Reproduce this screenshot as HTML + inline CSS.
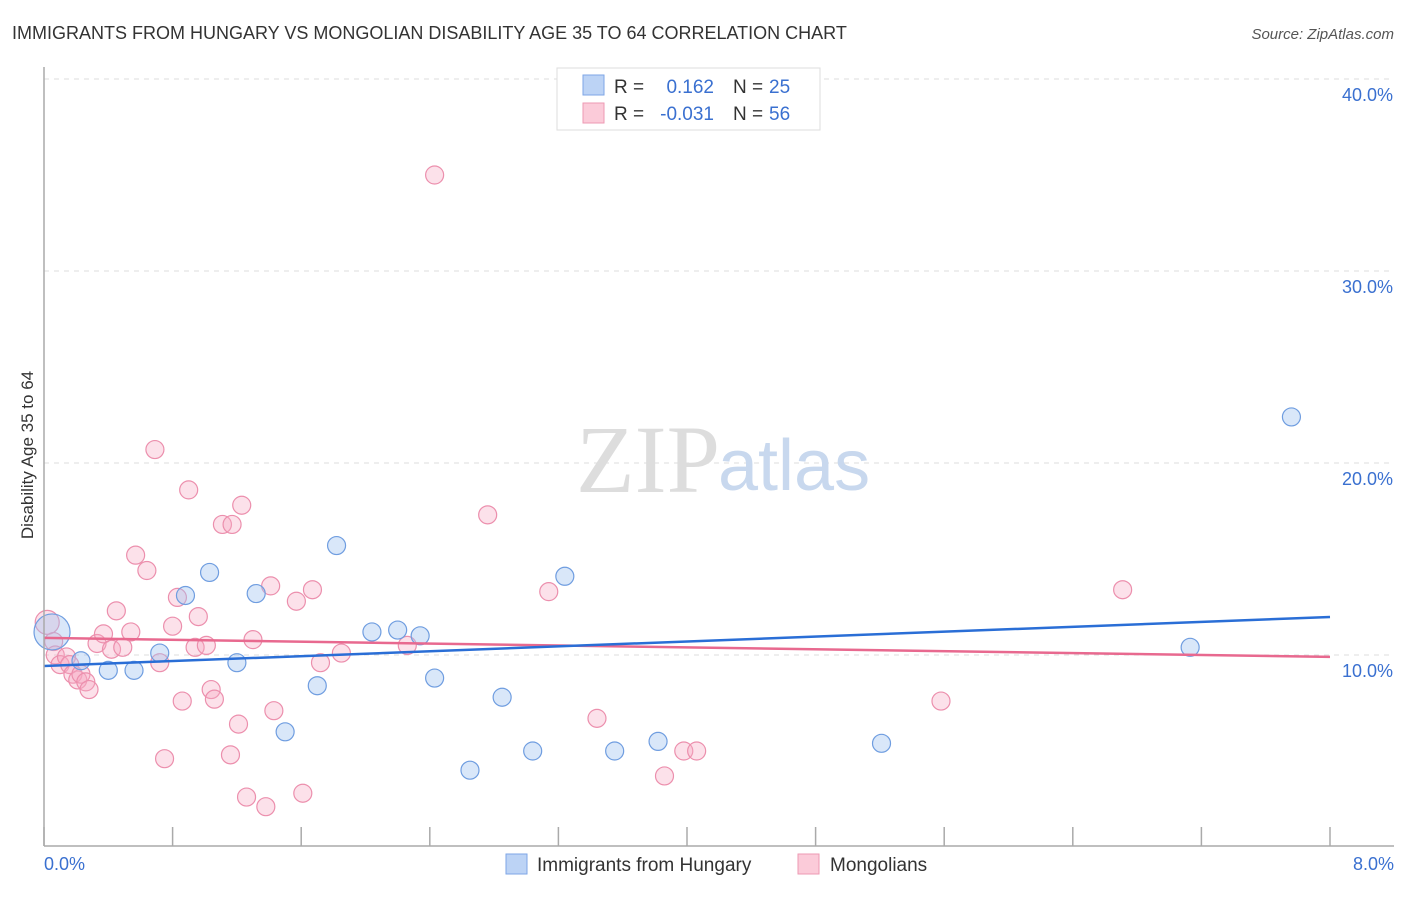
<!DOCTYPE html>
<html><head><meta charset="utf-8"><style>
body{margin:0;background:#fff;font-family:"Liberation Sans",sans-serif}
</style></head><body>
<svg width="1406" height="892" xmlns="http://www.w3.org/2000/svg" font-family="Liberation Sans, sans-serif">
<text x="12" y="39" font-size="18" fill="#333">IMMIGRANTS FROM HUNGARY VS MONGOLIAN DISABILITY AGE 35 TO 64 CORRELATION CHART</text>
<text x="1394" y="39" font-size="15" fill="#555" font-style="italic" text-anchor="end">Source: ZipAtlas.com</text>
<g id="grid"></g>
<text x="720" y="492" font-size="96" fill="#ddd" text-anchor="end" font-family="Liberation Serif, serif">ZIP</text>
<text x="718" y="490" font-size="72" fill="#c8d8ee">atlas</text>
<g id="points"></g>
<g id="lines"></g>
<line x1="44" y1="67" x2="44" y2="846" stroke="#aaa" stroke-width="1.5"/>
<line x1="44" y1="846" x2="1394" y2="846" stroke="#aaa" stroke-width="1.5"/>
<text transform="translate(33,455) rotate(-90)" font-size="17" fill="#333" text-anchor="middle">Disability Age 35 to 64</text>
<text x="44" y="870" font-size="18" fill="#3a70d0">0.0%</text>
<text x="1394" y="870" font-size="18" fill="#3a70d0" text-anchor="end">8.0%</text>
<g>
<rect x="557" y="68" width="263" height="62" fill="#fff" stroke="#ddd"/>
<rect x="583" y="75" width="21" height="20" fill="#bcd3f5" stroke="#7ea6e6"/>
<rect x="583" y="103" width="21" height="20" fill="#fbcbd9" stroke="#ee9ab3"/>
<text x="614" y="93" font-size="19" fill="#333">R =</text><text x="714" y="93" font-size="19" fill="#3a70d0" text-anchor="end">0.162</text>
<text x="733" y="93" font-size="19" fill="#333">N =</text><text x="769" y="93" font-size="19" fill="#3a70d0">25</text>
<text x="614" y="120" font-size="19" fill="#333">R =</text><text x="714" y="120" font-size="19" fill="#3a70d0" text-anchor="end">-0.031</text>
<text x="733" y="120" font-size="19" fill="#333">N =</text><text x="769" y="120" font-size="19" fill="#3a70d0">56</text>
</g>
<g>
<rect x="506" y="854" width="21" height="20" fill="#bcd3f5" stroke="#7ea6e6"/>
<text x="537" y="871" font-size="19" fill="#333">Immigrants from Hungary</text>
<rect x="798" y="854" width="21" height="20" fill="#fbcbd9" stroke="#ee9ab3"/>
<text x="830" y="871" font-size="19" fill="#333">Mongolians</text>
</g>
</svg>
<script>
const xTicks=[0,0.8,1.6,2.4,3.2,4.0,4.8,5.6,6.4,7.2,8.0];
const yTicks=[10,20,30,40];
const yTickLabels=["10.0%","20.0%","30.0%","40.0%"];
const hungaryX=[0.05,0.23,0.40,0.56,0.72,0.88,1.03,1.20,1.32,1.50,1.70,1.82,2.04,2.20,2.34,2.43,2.65,2.85,3.04,3.24,3.55,3.82,5.21,7.13,7.76];
const hungaryY=[11.2,9.7,9.2,9.2,10.1,13.1,14.3,9.6,13.2,6.0,8.4,15.7,11.2,11.3,11.0,8.8,4.0,7.8,5.0,14.1,5.0,5.5,5.4,10.4,22.4];
const mongolX=[0.02,0.06,0.07,0.10,0.14,0.16,0.18,0.21,0.23,0.26,0.28,0.33,0.37,0.42,0.45,0.49,0.54,0.57,0.64,0.69,0.72,0.75,0.80,0.83,0.86,0.90,0.94,0.96,1.01,1.04,1.06,1.11,1.16,1.17,1.21,1.23,1.26,1.30,1.38,1.41,1.43,1.57,1.61,1.67,1.72,1.85,2.26,2.43,2.76,3.14,3.44,3.86,3.98,4.06,5.58,6.71];
const mongolY=[11.7,10.7,10.0,9.5,9.9,9.5,9.0,8.7,9.0,8.6,8.2,10.6,11.1,10.3,12.3,10.4,11.2,15.2,14.4,20.7,9.6,4.6,11.5,13.0,7.6,18.6,10.4,12.0,10.5,8.2,7.7,16.8,4.8,16.8,6.4,17.8,2.6,10.8,2.1,13.6,7.1,12.8,2.8,13.4,9.6,10.1,10.5,35.0,17.3,13.3,6.7,3.7,5.0,5.0,7.6,13.4];
const hungaryTrend=[9.43,11.98];
const mongolTrend=[10.89,9.9];
const X0=44,X1=1330,Y0=847,PY=19.2;
const sx=v=>X0+(X1-X0)*v/8, sy=v=>Y0-v*PY;
const NS="http://www.w3.org/2000/svg";
function mk(tag,attrs,parent){const e=document.createElementNS(NS,tag);for(const k in attrs)e.setAttribute(k,attrs[k]);parent.appendChild(e);return e;}
const grid=document.getElementById('grid');
yTicks.forEach((t,i)=>{
 const l=mk('line',{x1:44,x2:1394,y1:sy(t),y2:sy(t),stroke:'#ddd','stroke-dasharray':'5,5'},grid);
 
 
 const tx=mk('text',{x:1393,y:sy(t)+22,'font-size':18,fill:'#3a70d0','text-anchor':'end'},grid);
 tx.textContent=yTickLabels[i];
 
 
});
xTicks.forEach(t=>{
 const l=mk('line',{x1:sx(t),x2:sx(t),y1:827,y2:846,stroke:'#aaa','stroke-width':1.5},grid);
 
 
});
const pts=document.getElementById('points');
mongolX.forEach((x,i)=>{
 const c=mk('circle',{cx:sx(x),cy:sy(mongolY[i]),r:i==0?12:9,fill:'rgba(246,170,195,0.35)',stroke:'#ec8fad','stroke-width':1.2},pts);
 
 
});
hungaryX.forEach((x,i)=>{
 const c=mk('circle',{cx:sx(x),cy:sy(hungaryY[i]),r:i==0?18:9,fill:'rgba(160,195,240,0.4)',stroke:'#6f9de0','stroke-width':1.2},pts);
 
 
});
const lines=document.getElementById('lines');
const l1=mk('line',{x1:sx(0),y1:sy(mongolTrend[0]),x2:sx(8),y2:sy(mongolTrend[1]),stroke:'#e8698f','stroke-width':2.5},lines);


const l2=mk('line',{x1:sx(0),y1:sy(hungaryTrend[0]),x2:sx(8),y2:sy(hungaryTrend[1]),stroke:'#2a6ed6','stroke-width':2.5},lines);


</script>
</body></html>
